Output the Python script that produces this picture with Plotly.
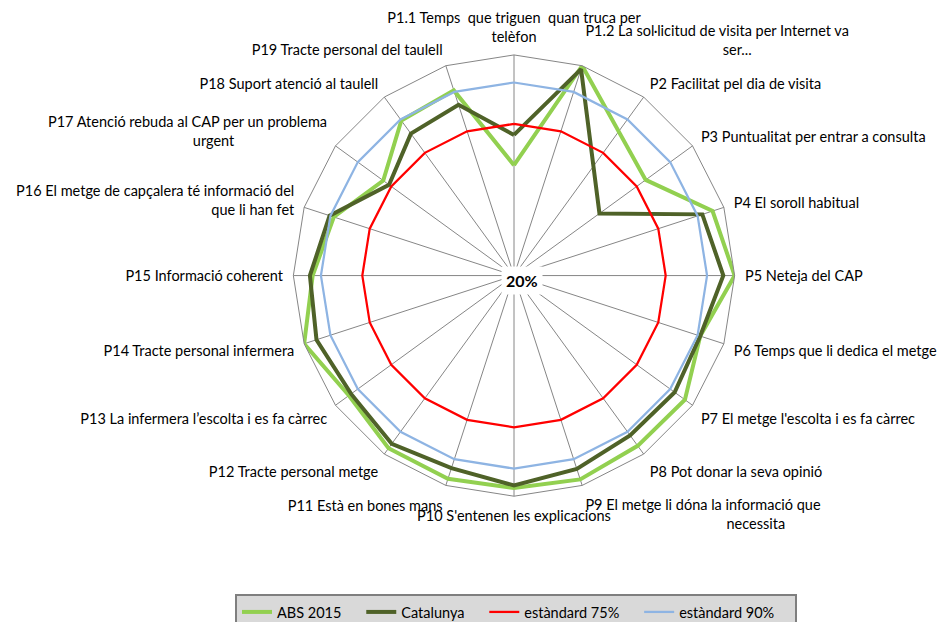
import plotly.graph_objects as go

NB = "\u00a0"

categories = [
    "P1.1 Temps  que triguen  quan truca per<br>telèfon",
    "P1.2 La sol·licitud de visita per Internet va<br>" + NB * 37 + "ser...",
    "P2 Facilitat pel dia de visita",
    "P3 Puntualitat per entrar a consulta",
    "P4 El soroll habitual",
    "P5 Neteja del CAP",
    "P6 Temps que li dedica el metge",
    "P7 El metge l'escolta i es fa càrrec",
    "P8 Pot donar la seva opinió",
    "P9 El metge li dóna la informació que<br>" + NB * 38 + "necessita",
    "P10 S'entenen les explicacions",
    "P11 Està en bones mans",
    "P12 Tracte personal metge",
    "P13 La infermera l’escolta i es fa càrrec",
    "P14 Tracte personal infermera",
    "P15 Informació coherent",
    "P16 El metge de capçalera té informació del<br>que li han fet",
    "P17 Atenció rebuda al CAP per un problema<br>urgent" + NB * 25,
    "P18 Suport atenció al taulell",
    "P19 Tracte personal del taulell",
]

abs_2015 = [60, 100, None, 79, 95.7, 100, 91, 96.6, 96.3, 97.7, 97, 97.5, 97.4, 94, 100, 93, 88.7, 78.6, 89.5, 90.6]
catalunya = [71, 98.7, None, 58.3, 91.8, 95.9, 91, 92, 91.6, 93.7, 96.1, 93.4, 95.4, 93, 95.3, 94, 90.3, 76, 83.6, 85.1]
estandard_75 = [75] * 20
estandard_90 = [90] * 20

series_names = ["ABS 2015", "Catalunya", "estàndard 75%", "estàndard 90%"]
series_values = [abs_2015, catalunya, estandard_75, estandard_90]
series_colors = ["#92D050", "#4F6228", "#FF0000", "#8EB4E3"]
series_widths = [4, 4, 2.25, 2.25]

W, H = 945, 622
# the page body adds an 8px offset; positions below are in figure pixels
CX, CY, R = 506, 268, 221
PAD = NB * 4

fig = go.Figure()
for name, vals, color, width in zip(series_names, series_values, series_colors, series_widths):
    fig.add_trace(go.Scatterpolar(
        r=vals + [vals[0]],
        theta=categories + [categories[0]],
        mode="lines",
        name=name + PAD,
        connectgaps=True,
        line=dict(color=color, width=width),
    ))

fig.update_layout(
    width=W, height=H,
    margin=dict(l=0, r=0, t=0, b=0),
    paper_bgcolor="white",
    plot_bgcolor="white",
    font=dict(family="Lato, Carlito, Calibri, sans-serif", size=14.5, color="#000000"),
    polar=dict(
        domain=dict(x=[(CX - R) / W, (CX + R) / W], y=[1 - (CY + R) / H, 1 - (CY - R) / H]),
        bgcolor="white",
        gridshape="linear",
        radialaxis=dict(range=[20, 100], showgrid=False, showline=False,
                        showticklabels=False, ticks=""),
        angularaxis=dict(direction="clockwise", rotation=90, showgrid=True,
                         gridcolor="#868686", gridwidth=1, showline=True,
                         linecolor="#868686", linewidth=1, ticks="outside",
                         ticklen=7, tickcolor="rgba(0,0,0,0)",
                         tickfont=dict(size=14.5)),
    ),
    legend=dict(
        orientation="h", x=(516 - 8) / W, xanchor="center", y=1 - 587 / H, yanchor="top",
        bgcolor="#D9D9D9", bordercolor="#7F7F7F", borderwidth=2,
        font=dict(size=14.5), itemwidth=30,
    ),
    annotations=[dict(
        x=(CX + 8) / W, y=1 - (CY + 5) / H, xref="paper", yref="paper", text="<b>20%</b>",
        showarrow=False, font=dict(size=16, color="black"), bgcolor="white",
        borderpad=4,
    )],
)

fig.write_html("out.html")
